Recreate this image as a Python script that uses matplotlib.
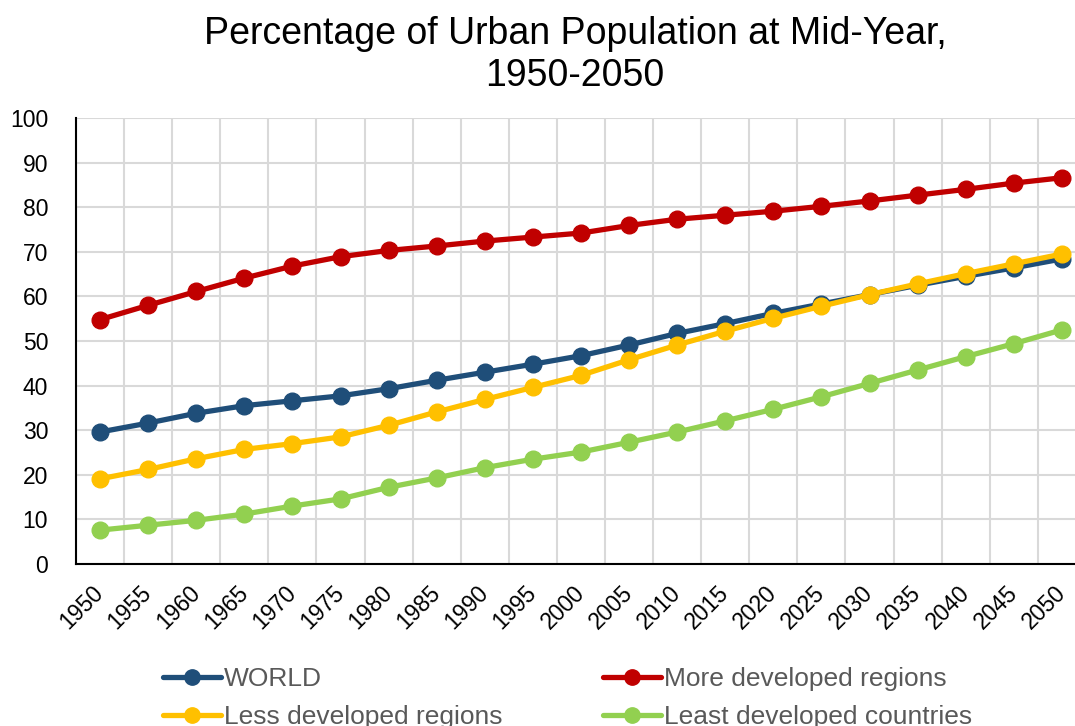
import matplotlib.pyplot as plt

plt.rcParams['font.family'] = ['Liberation Sans', 'DejaVu Sans']

years = [1950, 1955, 1960, 1965, 1970, 1975, 1980, 1985, 1990, 1995, 2000,
         2005, 2010, 2015, 2020, 2025, 2030, 2035, 2040, 2045, 2050]

world = [29.6, 31.6, 33.8, 35.5, 36.6, 37.7, 39.3, 41.2, 43.0, 44.8, 46.7,
         49.1, 51.7, 53.9, 56.2, 58.3, 60.4, 62.5, 64.5, 66.4, 68.4]
more_dev = [54.8, 58.0, 61.1, 64.1, 66.8, 68.9, 70.3, 71.3, 72.4, 73.3, 74.2,
            75.9, 77.3, 78.2, 79.1, 80.2, 81.4, 82.7, 84.0, 85.4, 86.6]
less_dev = [19.1, 21.2, 23.6, 25.7, 27.0, 28.5, 31.1, 34.1, 36.9, 39.6, 42.3,
            45.8, 49.1, 52.2, 55.1, 57.8, 60.4, 62.8, 65.1, 67.3, 69.5]
least_dev = [7.6, 8.7, 9.8, 11.2, 13.0, 14.6, 17.2, 19.3, 21.6, 23.5, 25.1,
             27.3, 29.6, 32.1, 34.7, 37.5, 40.5, 43.5, 46.5, 49.4, 52.5]

series = [
    ("WORLD", world, "#1F4E79"),
    ("More developed regions", more_dev, "#C00000"),
    ("Less developed regions", less_dev, "#FFC000"),
    ("Least developed countries", least_dev, "#92D050"),
]

fig = plt.figure(figsize=(10.75, 7.26), dpi=100)
ax = fig.add_axes([0.0707, 0.2231, 0.9395, 0.6144])

x = list(range(len(years)))
lines = []
for name, vals, col in series:
    ln, = ax.plot(x, vals, color=col, lw=3.8, marker="o", markersize=12,
                  label=name, solid_capstyle="round", clip_on=False)
    lines.append(ln)

ax.set_xlim(-0.5, len(years) - 0.5)
ax.set_ylim(0, 100)
ax.set_yticks(range(0, 101, 10))
ax.set_xticks(x)
ax.set_xticklabels([str(y) for y in years], rotation=45, ha="right",
                   va="center", rotation_mode="anchor")
ax.set_xticks([i - 0.5 for i in range(len(years) + 1)], minor=True)
ax.tick_params(axis="both", which="both", length=0, labelsize=16.5)
ax.tick_params(axis="y", pad=20)
ax.tick_params(axis="x", pad=18)
ax.grid(True, which="minor", axis="x", color="#D9D9D9", lw=1.5)
ax.grid(True, which="major", axis="y", color="#D9D9D9", lw=1.5)
ax.set_axisbelow(True)
for s in ["top", "right"]:
    ax.spines[s].set_visible(False)
ax.spines["left"].set_color("black")
ax.spines["left"].set_linewidth(1.5)
ax.spines["bottom"].set_color("black")
ax.spines["bottom"].set_linewidth(1.5)

fig.text(0.535, 0.978, "Percentage of Urban Population at Mid-Year,\n1950-2050",
         ha="center", va="top", fontsize=27, linespacing=1.2)

# column-major fill: WORLD, Less | More, Least
order = [0, 2, 1, 3]
leg = fig.legend([lines[i] for i in order], [series[i][0] for i in order],
                 loc="upper left", bbox_to_anchor=(0.152, 0.081), ncol=2,
                 frameon=False, fontsize=19, handlelength=2.2,
                 handletextpad=0.1, columnspacing=3.8, labelspacing=0.52,
                 borderpad=0, borderaxespad=0, markerscale=0.92)
for t in leg.get_texts():
    t.set_color("#595959")

fig.savefig("out.png", dpi=100)
